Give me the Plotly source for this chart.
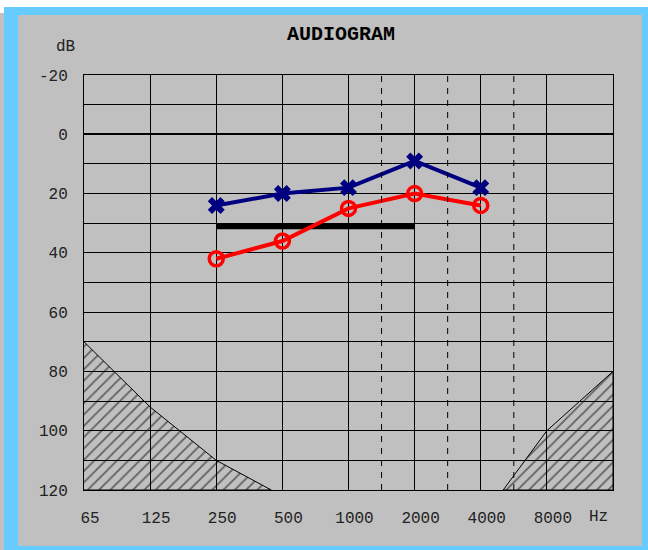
import plotly.graph_objects as go

# ---- data ----
freq_ticks = [62.5, 125, 250, 500, 1000, 2000, 4000, 8000]
freq_labels = ["65", "125", "250", "500", "1000", "2000", "4000", "8000"]
half_octaves = [1414, 2828, 5657]

db_ticks = list(range(-20, 130, 10))
db_labels = [str(v) if v % 20 == 0 else "" for v in db_ticks]

test_freqs = [250, 500, 1000, 2000, 4000]
left_x_db = [24, 20, 18, 9, 18]      # blue X markers
right_o_db = [42, 36, 25, 20, 24]    # red O markers

bar_freqs = [250, 2000]
bar_db = [31, 31]

low_hatch_f = [62.5, 125, 250, 445, 62.5]
low_hatch_db = [70, 92, 110, 120, 120]
high_hatch_f = [5060, 8000, 16000, 16000, 5060]
high_hatch_db = [120, 100, 80, 120, 120]

# ---- layout geometry ----
W, H = 648, 550
L, R, T, B = 84, 613, 75, 490
def px(x):
    return (x - L) / (R - L)
def py(y):
    return (B - y) / (B - T)

FONT = "Liberation Mono"
GRAY = "#C0C0C0"
BLUE = "#66CCFF"

fig = go.Figure()

pattern = dict(shape="/", size=8, solidity=0.22, fgcolor="black",
               bgcolor="rgba(0,0,0,0)", fillmode="overlay")
for fx, fy in [(low_hatch_f, low_hatch_db), (high_hatch_f, high_hatch_db)]:
    fig.add_trace(go.Scatter(x=fx, y=fy, mode="lines", fill="toself",
                             fillcolor="rgba(0,0,0,0)", fillpattern=pattern,
                             line=dict(color="black", width=1),
                             hoverinfo="skip", showlegend=False))

fig.add_trace(go.Scatter(x=bar_freqs, y=bar_db, mode="lines",
                         line=dict(color="black", width=6), showlegend=False))

fig.add_trace(go.Scatter(x=test_freqs, y=right_o_db, mode="lines+markers",
                         line=dict(color="#FF0000", width=4),
                         marker=dict(symbol="circle-open", size=14, color="#FF0000",
                                     line=dict(width=3.5, color="#FF0000")),
                         showlegend=False))

fig.add_trace(go.Scatter(x=test_freqs, y=left_x_db, mode="lines+markers",
                         line=dict(color="#000080", width=4),
                         marker=dict(symbol="x", size=15, color="#000080",
                                     line=dict(width=0)),
                         showlegend=False))

shapes = [
    dict(type="rect", xref="paper", yref="paper", layer="below",
         x0=px(0), x1=px(W), y0=py(H), y1=py(0), fillcolor="white", line_width=0),
    dict(type="rect", xref="paper", yref="paper", layer="below",
         x0=px(4), x1=px(W), y0=py(H), y1=py(7), fillcolor=BLUE, line_width=0),
    dict(type="rect", xref="paper", yref="paper", layer="below",
         x0=px(0), x1=px(4), y0=py(H), y1=py(13), fillcolor=GRAY, line_width=0),
    dict(type="rect", xref="paper", yref="paper", layer="below",
         x0=px(18), x1=px(642), y0=py(546), y1=py(15), fillcolor=GRAY, line_width=0),
]
for f in half_octaves:
    shapes.append(dict(type="line", xref="x", yref="paper", x0=f, x1=f, y0=0, y1=1,
                       line=dict(color="black", width=1, dash="6px,6px")))

annotations = [
    dict(text="<b>AUDIOGRAM</b>", xref="paper", yref="paper", x=px(341), y=py(35),
         xanchor="center", yanchor="middle",
         showarrow=False, font=dict(family=FONT, size=20, color="black")),
    dict(text="dB", xref="paper", yref="paper", x=px(65), y=py(47),
         xanchor="center", yanchor="middle",
         showarrow=False, font=dict(family=FONT, size=16, color="#222")),
    dict(text="Hz", xref="paper", yref="paper", x=px(598), y=py(517),
         xanchor="center", yanchor="middle",
         showarrow=False, font=dict(family=FONT, size=16, color="#222")),
]

fig.update_layout(
    width=W, height=H,
    margin=dict(l=L, r=W - R, t=T, b=H - B, pad=0),
    paper_bgcolor="white", plot_bgcolor=GRAY,
    shapes=shapes, annotations=annotations,
    showlegend=False,
)
fig.update_xaxes(type="log", range=[1.79588, 4.20412],
                 tickvals=freq_ticks, ticktext=freq_labels,
                 showgrid=True, gridcolor="black", gridwidth=1,
                 showline=True, mirror=True, linecolor="black", linewidth=1,
                 ticks="", ticklabelstandoff=13, ticklabelshift=6,
                 tickfont=dict(family=FONT, size=16, color="#222"),
                 zeroline=False)
fig.update_yaxes(range=[120, -20],
                 tickvals=db_ticks, ticktext=db_labels,
                 showgrid=True, gridcolor="black", gridwidth=1,
                 showline=True, mirror=True, linecolor="black", linewidth=1,
                 zeroline=True, zerolinecolor="black", zerolinewidth=2,
                 ticks="", ticklabelstandoff=12,
                 tickfont=dict(family=FONT, size=16, color="#222"))

fig.write_html("out.html")
